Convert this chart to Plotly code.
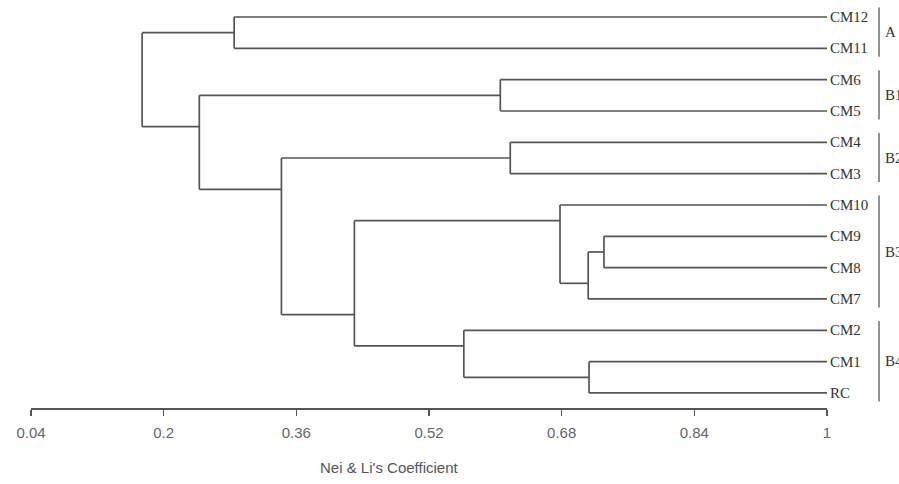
import plotly.graph_objects as go

# ---- data ----
leaves = ["CM12", "CM11", "CM6", "CM5", "CM4", "CM3", "CM10", "CM9", "CM8", "CM7", "CM2", "CM1", "RC"]
# merges, N1..N12 in order: (child a, child b, similarity)
merge_a = ["CM12", "CM6", "CM4", "CM9", "N4", "CM10", "CM1", "CM2", "N6", "N3", "N2", "N1"]
merge_b = ["CM11", "CM5", "CM3", "CM8", "CM7", "N5", "RC", "N7", "N8", "N9", "N10", "N11"]
merge_h = [0.285, 0.606, 0.618, 0.731, 0.712, 0.678, 0.713, 0.562, 0.430, 0.342, 0.243, 0.174]

group_names = ["A", "B1", "B2", "B3", "B4"]
group_first = ["CM12", "CM6", "CM4", "CM10", "CM2"]
group_last = ["CM11", "CM5", "CM3", "CM7", "RC"]

tick_vals = [0.04, 0.2, 0.36, 0.52, 0.68, 0.84, 1.0]
tick_text = ["0.04", "0.2", "0.36", "0.52", "0.68", "0.84", "1"]
x_title = "Nei &amp; Li's Coefficient"

# ---- build tree geometry ----
leaf_y = {name: i for i, name in enumerate(leaves)}
node_leaves = {name: [name] for name in leaves}
conn_y = dict(leaf_y)
conn_x = {name: 1.0 for name in leaves}

xs, ys = [], []
for k, (a, b, h) in enumerate(zip(merge_a, merge_b, merge_h)):
    nid = "N%d" % (k + 1)
    la, lb = node_leaves[a], node_leaves[b]
    node_leaves[nid] = la + lb
    y_node = (leaf_y[la[-1]] + leaf_y[lb[0]]) / 2.0
    conn_y[nid] = y_node
    conn_x[nid] = h
    # vertical
    xs += [h, h, None]
    ys += [conn_y[a], conn_y[b], None]
    # horizontals to children
    for c in (a, b):
        xs += [h, conn_x[c], None]
        ys += [conn_y[c], conn_y[c], None]

line_col = "#555555"
fig = go.Figure()
fig.add_trace(go.Scatter(x=xs, y=ys, mode="lines",
                         line=dict(color=line_col, width=1.7),
                         hoverinfo="skip", showlegend=False))

annotations = []
for name in leaves:
    annotations.append(dict(x=1.0, xref="paper", y=leaf_y[name], yref="y",
                            text=name, showarrow=False, xanchor="left", yanchor="middle",
                            xshift=1,
                            font=dict(family="Liberation Serif", size=15, color="#333333")))

shapes = []
bx = 1.0 + (879 - 827) / 796.0
for g, f, l in zip(group_names, group_first, group_last):
    y0 = leaf_y[f] - 0.3
    y1 = leaf_y[l] + 0.27
    shapes.append(dict(type="line", xref="paper", yref="y", x0=bx, x1=bx, y0=y0, y1=y1,
                       line=dict(color="#777777", width=1.6)))
    annotations.append(dict(x=bx, xref="paper", y=(y0 + y1) / 2.0, yref="y",
                            text=g, showarrow=False, xanchor="left", yanchor="middle",
                            xshift=4,
                            font=dict(family="Liberation Serif", size=15, color="#333333")))

annotations.append(dict(x=(389 - 31) / 796.0, xref="paper", y=(408 - 467) / 403.0, yref="paper",
                        text=x_title, showarrow=False, xanchor="center", yanchor="middle",
                        font=dict(family="Liberation Sans", size=15, color="#555555")))

fig.update_layout(
    width=899, height=484,
    margin=dict(l=31, r=72, t=5, b=76),
    paper_bgcolor="white", plot_bgcolor="white",
    annotations=annotations, shapes=shapes,
    hovermode=False,
    xaxis=dict(range=[0.04, 1.0], tickvals=tick_vals, ticktext=tick_text,
               showline=True, linecolor=line_col, linewidth=1.5,
               ticks="outside", ticklen=6, tickcolor=line_col, tickwidth=1.5,
               ticklabelstandoff=4,
               tickfont=dict(family="Liberation Sans", size=15, color="#666666"),
               showgrid=False, zeroline=False, fixedrange=True),
    yaxis=dict(range=[12.48, -0.383], visible=False, showgrid=False, zeroline=False,
               fixedrange=True),
)

fig.write_html("out.html",
               config={"displayModeBar": False, "staticPlot": True},
               post_script="document.body.style.margin='0';document.body.style.overflow='hidden';")
